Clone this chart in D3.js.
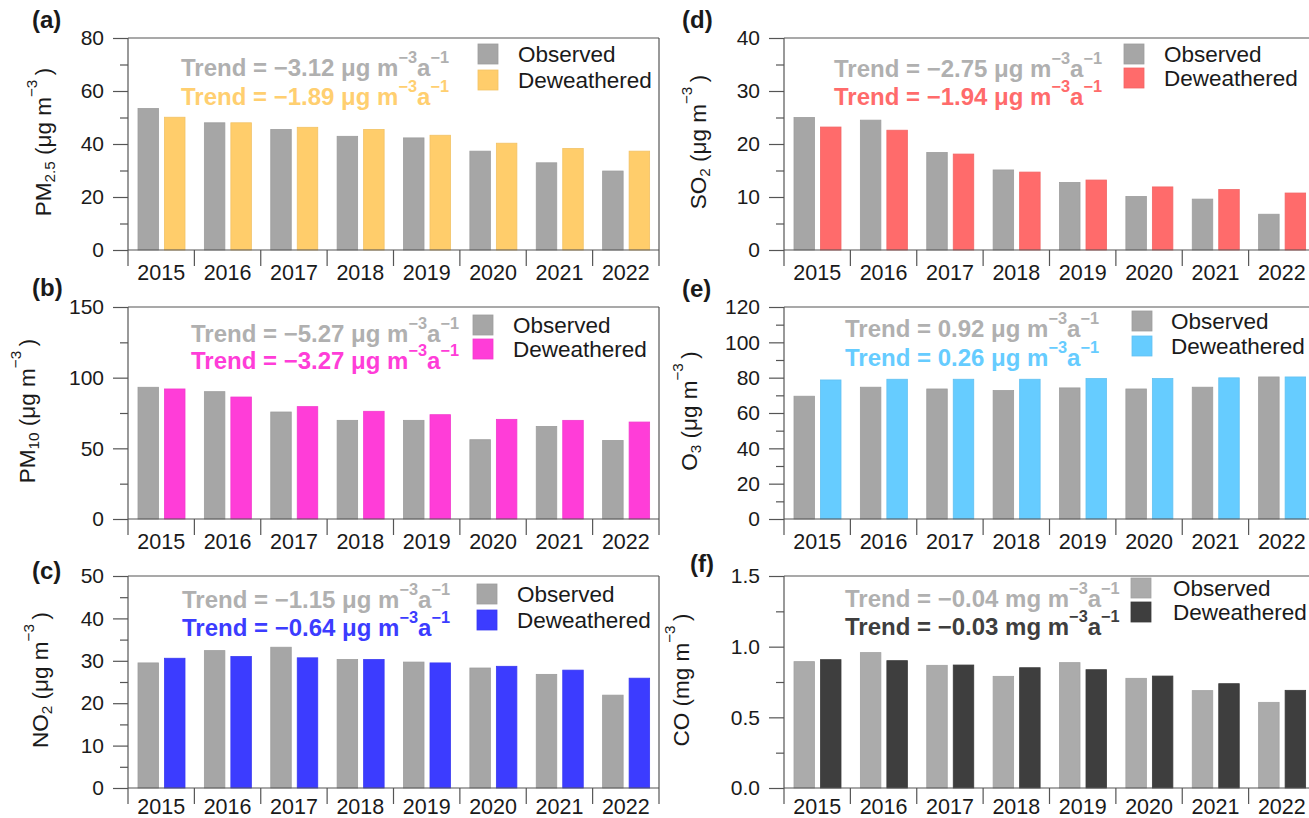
<!DOCTYPE html>
<html>
<head>
<meta charset="utf-8">
<script src="https://cdn.jsdelivr.net/npm/d3@7"></script>
<style>
  body { margin: 0; background: #fff; }
  svg { display: block; }
  text { font-family: "Liberation Sans", Arial, Helvetica, sans-serif; fill: #1a1a1a; }
</style>
</head>
<body>
<svg id="chart" width="1309" height="818"></svg>
<script>
// ---- data: annual means, observed vs. deweathered ----
const years = ["2015", "2016", "2017", "2018", "2019", "2020", "2021", "2022"];
const seriesNames = ["Observed", "Deweathered"];

const pm25Observed    = [53.4, 48.0, 45.5, 42.9, 42.3, 37.3, 32.9, 29.8];
const pm25Deweathered = [50.1, 48.0, 46.3, 45.5, 43.3, 40.3, 38.3, 37.3];
const pm25Trends      = ["\u22123.12", "\u22121.89"];

const pm10Observed    = [93.2, 90.1, 75.7, 69.8, 69.8, 56.1, 65.5, 55.6];
const pm10Deweathered = [92.0, 86.3, 79.5, 76.2, 73.8, 70.5, 69.8, 68.6];
const pm10Trends      = ["\u22125.27", "\u22123.27"];

const no2Observed     = [29.5, 32.4, 33.2, 30.3, 29.7, 28.3, 26.8, 21.9];
const no2Deweathered  = [30.6, 31.0, 30.7, 30.3, 29.5, 28.7, 27.8, 25.9];
const no2Trends       = ["\u22121.15", "\u22120.64"];

const so2Observed     = [25.0, 24.5, 18.4, 15.1, 12.75, 10.1, 9.6, 6.75];
const so2Deweathered  = [23.2, 22.6, 18.1, 14.7, 13.2, 11.9, 11.4, 10.75];
const so2Trends       = ["\u22122.75", "\u22121.94"];

const o3Observed      = [69.5, 74.6, 73.6, 72.7, 74.2, 73.6, 74.6, 80.4];
const o3Deweathered   = [78.7, 79.1, 79.1, 79.1, 79.5, 79.5, 79.9, 80.4];
const o3Trends        = ["0.92", "0.26"];

const coObserved      = [0.894, 0.958, 0.868, 0.790, 0.887, 0.776, 0.689, 0.606];
const coDeweathered   = [0.908, 0.901, 0.870, 0.851, 0.837, 0.792, 0.738, 0.691];
const coTrends        = ["\u22120.04", "\u22120.03"];

// ---- panel definitions ----
const panels = [
  { tag: "(a)", name: [{t: "PM"}, {t: "2.5", sub: true}], unit: "\u03bcg", obs: pm25Observed, dew: pm25Deweathered, trends: pm25Trends,
    color: "#FFCD6B", obsColor: "#A6A6A6", trendColor: "#FFCF70", yMax: 80, major: 20, minor: 10, fmt: d3.format("d") },
  { tag: "(b)", name: [{t: "PM"}, {t: "10", sub: true}], unit: "\u03bcg", obs: pm10Observed, dew: pm10Deweathered, trends: pm10Trends,
    color: "#FF3DD8", obsColor: "#A6A6A6", trendColor: "#FF3DD8", yMax: 150, major: 50, minor: 25, fmt: d3.format("d") },
  { tag: "(c)", name: [{t: "NO"}, {t: "2", sub: true}], unit: "\u03bcg", obs: no2Observed, dew: no2Deweathered, trends: no2Trends,
    color: "#3C3CFF", obsColor: "#A6A6A6", trendColor: "#3C3CFF", yMax: 50, major: 10, minor: 5, fmt: d3.format("d") },
  { tag: "(d)", name: [{t: "SO"}, {t: "2", sub: true}], unit: "\u03bcg", obs: so2Observed, dew: so2Deweathered, trends: so2Trends,
    color: "#FF6B6B", obsColor: "#A6A6A6", trendColor: "#FF6B6B", yMax: 40, major: 10, minor: 5, fmt: d3.format("d") },
  { tag: "(e)", name: [{t: "O"}, {t: "3", sub: true}], unit: "\u03bcg", obs: o3Observed, dew: o3Deweathered, trends: o3Trends,
    color: "#66CCFF", obsColor: "#A6A6A6", trendColor: "#66CCFF", yMax: 120, major: 20, minor: 10, fmt: d3.format("d") },
  { tag: "(f)", name: [{t: "CO"}], unit: "mg", obs: coObserved, dew: coDeweathered, trends: coTrends,
    color: "#3E3E3E", obsColor: "#ABABAB", trendColor: "#3E3E3E", yMax: 1.5, major: 0.5, minor: 0.25, fmt: d3.format(".1f") }
];

// ---- layout of the 3 x 2 grid ----
const axisX = [128, 784];          // left edge of the plotting area, per column
const topY  = [38, 307, 576];      // top edge, per row
const yearPad = [15, 15, 11];      // gap between baseline and year labels, per row
const plotW = 531, plotH = 212;
const grid = [[0,0],[0,1],[0,2],[1,0],[1,1],[1,2]];  // [col,row] per panel
// fine placement of annotation blocks (relative to plot origin)
const annot = [
  { tx: 53, ty: [29, 58], lx: 350, lt: 390, ly: [16, 42], yl: -85, tagX: -96, tagY: -10 },
  { tx: 63, ty: [26, 53], lx: 345, lt: 385, ly: [18, 42], yl: -101, tagX: -96, tagY: -11 },
  { tx: 54, ty: [23, 51], lx: 349, lt: 389, ly: [18, 44], yl: -88, tagX: -96, tagY: 3 },
  { tx: 50, ty: [30, 58], lx: 340, lt: 380, ly: [16, 40], yl: -86, tagX: -102, tagY: -10 },
  { tx: 61, ty: [21, 50], lx: 348, lt: 387, ly: [14, 39], yl: -95, tagX: -102, tagY: -10 },
  { tx: 61, ty: [22, 50], lx: 347, lt: 389, ly: [12, 36], yl: -103, tagX: -94, tagY: -4 }
];

const svg = d3.select("#chart");
const axisColor = "#555";
const trendGray = "#B0B0B0";
const fontStack = '"Liberation Sans", Arial, sans-serif';

// write a run of text pieces with sub/superscripts
function rich(sel, parts, fs, supK = 0.42) {
  let shift = 0;
  parts.forEach(p => {
    const target = p.sup ? -fs * supK : p.sub ? fs * 0.28 : 0;
    const ts = sel.append("tspan").attr("dy", target - shift).text(p.t);
    if (p.sup || p.sub) ts.attr("font-size", fs * 0.68);
    shift = target;
  });
}

panels.forEach((p, i) => {
  const [col, row] = grid[i];
  const a = annot[i];
  const g = svg.append("g").attr("transform", `translate(${axisX[col]},${topY[row]})`);

  const x = d3.scaleBand().domain(years).range([0, plotW]).paddingInner(0).paddingOuter(0);
  const xs = d3.scaleBand().domain(seriesNames).range([10, 57]).paddingInner(0.226);
  const y = d3.scaleLinear().domain([0, p.yMax]).range([plotH, 0]);

  // bars
  const rows = years.map((yr, k) => ({ yr, vals: [p.obs[k], p.dew[k]] }));
  const cols = [p.obsColor, p.color];
  const grp = g.selectAll("g.yr").data(rows).join("g")
    .attr("transform", d => `translate(${x(d.yr)},0)`);
  grp.selectAll("rect").data(d => d.vals.map((v, j) => ({ v, s: seriesNames[j], c: cols[j] }))).join("rect")
    .attr("x", d => xs(d.s))
    .attr("width", xs.bandwidth())
    .attr("y", d => y(d.v))
    .attr("height", d => plotH - y(d.v))
    .attr("fill", d => d.c)
    .attr("stroke", d => d3.color(d.c).darker(0.15))
    .attr("stroke-width", 0.8);

  // y axis: major + minor ticks
  const majors = d3.range(0, p.yMax + p.major / 2, p.major);
  const minors = d3.range(0, p.yMax + p.minor / 2, p.minor).filter(v => majors.every(m => Math.abs(m - v) > 1e-9));
  const yMaj = g.append("g").call(d3.axisLeft(y).tickValues(majors).tickFormat(p.fmt).tickSize(15).tickPadding(9));
  const yMin = g.append("g").call(d3.axisLeft(y).tickValues(minors).tickFormat("").tickSize(8));
  [yMaj, yMin].forEach(ax => {
    ax.select(".domain").remove();
    ax.selectAll("line").attr("stroke", axisColor).attr("stroke-width", 1.2);
  });
  yMaj.selectAll("text").attr("font-size", 21).attr("fill", "#1a1a1a").style("font-family", fontStack);

  // frame: left axis, top, right, baseline
  const frame = g.append("g").attr("stroke", axisColor).attr("stroke-width", 1.2).attr("fill", "none");
  frame.append("line").attr("x1", 0).attr("x2", 0).attr("y1", 0).attr("y2", plotH + 16);
  frame.append("line").attr("x1", plotW).attr("x2", plotW).attr("y1", 0).attr("y2", plotH + 16);
  frame.append("line").attr("x1", 0).attr("x2", plotW).attr("y1", 0).attr("y2", 0);
  frame.append("line").attr("x1", 0).attr("x2", plotW).attr("y1", plotH).attr("y2", plotH);

  // x axis: year labels centred, separators at category boundaries
  const xAx = g.append("g").attr("transform", `translate(0,${plotH})`)
    .call(d3.axisBottom(x).tickSize(0).tickPadding(yearPad[row]));
  xAx.select(".domain").remove();
  xAx.selectAll("text").attr("font-size", 21.5).attr("fill", "#1a1a1a").style("font-family", fontStack);
  g.append("g").selectAll("line").data(years.slice(1)).join("line")
    .attr("x1", d => x(d)).attr("x2", d => x(d))
    .attr("y1", plotH).attr("y2", plotH + 16)
    .attr("stroke", axisColor).attr("stroke-width", 1.2);

  // y label
  const yl = g.append("text")
    .attr("transform", `translate(${a.yl},${plotH / 2 - 2}) rotate(-90)`)
    .attr("text-anchor", "middle")
    .attr("dominant-baseline", "central")
    .attr("font-size", 22.5);
  rich(yl, [...p.name, {t: ` (${p.unit} m`}, {t: "\u22123", sup: true}, {t: "\u2009)"}], 22.5, 0.55);

  // panel tag
  g.append("text").attr("x", a.tagX).attr("y", a.tagY)
    .attr("font-size", 24).attr("font-weight", "bold").text(p.tag);

  // trend annotations
  p.trends.forEach((t, j) => {
    const tt = g.append("text").attr("x", a.tx).attr("y", a.ty[j])
      .attr("dominant-baseline", "central")
      .attr("font-size", 24).attr("font-weight", "bold")
      .style("fill", j === 0 ? trendGray : p.trendColor);
    rich(tt, [{t: `Trend = ${t} ${p.unit} m`}, {t: "\u22123", sup: true}, {t: "a"}, {t: "\u22121", sup: true}], 24);
  });

  // legend
  seriesNames.forEach((s, j) => {
    g.append("rect").attr("x", a.lx).attr("y", a.ly[j] - 10).attr("width", 20).attr("height", 20)
      .attr("fill", cols[j]).attr("stroke", d3.color(cols[j]).darker(0.15)).attr("stroke-width", 0.8);
    g.append("text").attr("x", a.lt).attr("y", a.ly[j])
      .attr("dominant-baseline", "central").attr("font-size", 22.5).text(s);
  });
});
</script>
</body>
</html>
